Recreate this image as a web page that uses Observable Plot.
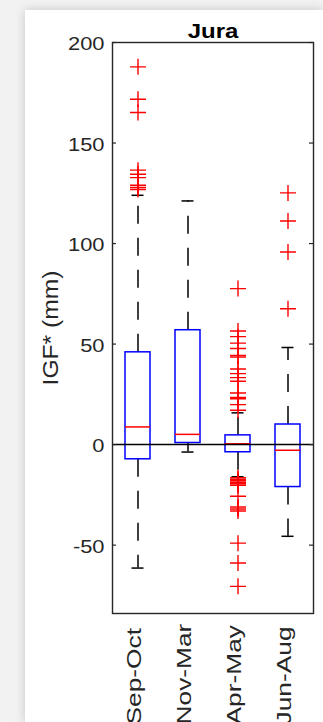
<!DOCTYPE html>
<html><head><meta charset="utf-8">
<script src="https://cdn.jsdelivr.net/npm/d3@7"></script>
<script src="https://cdn.jsdelivr.net/npm/@observablehq/plot@0.6"></script>
<style>
html,body{margin:0;padding:0;width:323px;height:722px;overflow:hidden;background:#f2f2f2;}
#card{position:absolute;left:25px;top:10px;right:0;bottom:0;background:#fff;box-shadow:0 0 10px rgba(0,0,0,0.18);}
#chart{position:absolute;left:0;top:0;}
</style></head><body><div id="card"></div><div id="chart"></div>
<script>
const title = "Jura";
const yLabel = "IGF* (mm)";
const categories = ["Sep-Oct", "Nov-Mar", "Apr-May", "Jun-Aug"];
const q1 = [-7.3, 0.8, -3.8, -21.1];
const median = [8.8, 5.1, 0.4, -2.8];
const q3 = [45.9, 56.9, 4.6, 10.0];
const whiskerLow = [-61.4, -3.7, -16, -45.6];
const whiskerHigh = [124.0, 121.2, 15.8, 48.3];
const outliersSepOct = [187.9, 171.8, 165.2, 136.5, 134.5, 132.8, 129.0, 127.9, 126.9];
const outliersNovMar = [];
const outliersAprMay = [77.6, 56.5, 53.7, 50.5, 47.8, 44.4, 43.6, 37.6, 35.3, 33.3, 31.5, 25.7, 23.5, 22.8, 19.9, 17.1,
  -16.5, -17.2, -18.0, -18.7, -19.5, -20.2, -25.7, -31.0, -32.0, -33.0, -49.0, -58.9, -70.5];
const outliersJunAug = [125.2, 111.2, 95.8, 67.6];
const yTicks = [-50, 0, 50, 100, 150, 200];
const yDomain = [-84, 200];

const stats = categories.map((c, i) => ({cat: c, q1: q1[i], med: median[i], q3: q3[i], lo: whiskerLow[i], hi: whiskerHigh[i]}));
const outlierLists = [outliersSepOct, outliersNovMar, outliersAprMay, outliersJunAug];
const outliers = outlierLists.flatMap((arr, i) => arr.map(v => ({cat: categories[i], v})));

const plus = {draw(ctx, size) { const r = Math.sqrt(size / Math.PI); ctx.moveTo(-r, 0); ctx.lineTo(r, 0); ctx.moveTo(0, -r); ctx.lineTo(0, r); }};
const ink = "#262626";

const svg = Plot.plot({
  width: 323, height: 722,
  marginLeft: 112, marginRight: 10, marginTop: 42, marginBottom: 109,
  style: {background: "transparent", fontFamily: "'Liberation Sans', Arial, sans-serif"},
  x: {type: "band", domain: categories, paddingInner: 0.5, paddingOuter: 0.25, axis: null},
  y: {domain: yDomain, axis: null},
  marks: [
    Plot.ruleX(stats, {x: "cat", y1: "q3", y2: "hi", stroke: "#000", strokeWidth: 1.5, strokeDasharray: "18,14"}),
    Plot.ruleX(stats, {x: "cat", y1: "q1", y2: "lo", stroke: "#000", strokeWidth: 1.5, strokeDasharray: "18,14"}),
    Plot.tickY(stats, {x: "cat", y: "hi", insetLeft: 6.5, insetRight: 6.5, stroke: "#000", strokeWidth: 1.5}),
    Plot.tickY(stats, {x: "cat", y: "lo", insetLeft: 6.5, insetRight: 6.5, stroke: "#000", strokeWidth: 1.5}),
    Plot.barY(stats, {x: "cat", y1: "q1", y2: "q3", fill: "none", stroke: "#0000ff", strokeWidth: 1.5}),
    Plot.tickY(stats, {x: "cat", y: "med", stroke: "#ff0000", strokeWidth: 1.5}),
    Plot.ruleY([0], {stroke: "#000", strokeWidth: 1.5}),
    Plot.dot(outliers, {x: "cat", y: "v", symbol: plus, r: 8, fill: "none", stroke: "#ff0000", strokeWidth: 1.4}),
    Plot.frame({stroke: ink, strokeWidth: 1.4}),
    Plot.ruleY(yTicks, {insetRight: 197, stroke: ink, strokeWidth: 1.2}),
    Plot.ruleY(yTicks, {insetLeft: 197, stroke: ink, strokeWidth: 1.2}),
    Plot.text(yTicks, {y: d => d, text: d => String(d), frameAnchor: "left", dx: -8, dy: 2, textAnchor: "end", fontSize: 17.5, fill: ink}),
    Plot.text([yLabel], {frameAnchor: "left", dx: -61.7, rotate: -90, textAnchor: "middle", fontSize: 22, fill: ink}),
    Plot.text(categories, {x: d => d, frameAnchor: "bottom", dy: 111, dx: 2.6, rotate: -90, textAnchor: "start", fontSize: 19.5, fill: ink}),
    Plot.text([title], {frameAnchor: "top", dy: -18.7, textAnchor: "middle", fontSize: 20, fontWeight: "bold", fill: "#000"})
  ]
});

// horizontal glyph stretch of the reference's text, keyed by font size of each text layer
const stretch = {"17.5": 1.25, "22": 1.12, "19.5": 1.35, "20": 1.2};
d3.select(svg).selectAll("g[font-size]").each(function () {
  const k = stretch[this.getAttribute("font-size")];
  if (!k) return;
  d3.select(this).selectAll("text").each(function () {
    const t = this.getAttribute("transform");
    if (t) this.setAttribute("transform", t + ` scale(${k},1)`);
    else {
      const x = +this.getAttribute("x") || 0, y = +this.getAttribute("y") || 0;
      this.removeAttribute("x"); this.removeAttribute("y");
      this.setAttribute("transform", `translate(${x},${y}) scale(${k},1)`);
    }
  });
});
document.getElementById("chart").appendChild(svg);
</script>
</body></html>
